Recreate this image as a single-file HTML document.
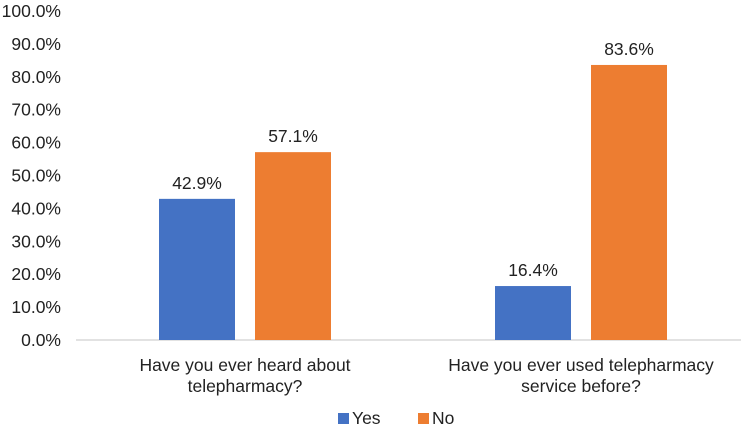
<!DOCTYPE html>
<html><head><meta charset="utf-8"><style>
html,body{margin:0;padding:0;background:#fff;}
svg{display:block;font-family:"Liberation Sans",Arial,sans-serif;}
</style></head><body>
<svg id="chart" width="750" height="431"></svg>
<script>
const categories1 = ["Have you ever heard about", "Have you ever used telepharmacy"];
const categories2 = ["telepharmacy?", "service before?"];
const yesValues = [42.9, 16.4];
const noValues = [57.1, 83.6];
const tickLabels = ["0.0%","10.0%","20.0%","30.0%","40.0%","50.0%","60.0%","70.0%","80.0%","90.0%","100.0%"];
const tickValues = [0,10,20,30,40,50,60,70,80,90,100];

const svg = document.getElementById('chart');
const NS = 'http://www.w3.org/2000/svg';
const y0 = 340, yTop = 11;
const FS = 17.5;
function yScale(v){ return y0 - (v/100)*(y0-yTop); }
const plotL = 77, groupW = 336;
function groupCenter(i){ return plotL + groupW*(i+0.5); }
const barW = 76, gap = 20;
function mk(tag, attrs){ const e=document.createElementNS(NS,tag); for(const k in attrs) e.setAttribute(k,attrs[k]); svg.appendChild(e); return e; }

tickValues.forEach((v,i)=>{
  const t = mk('text',{x:61,y:yScale(v)+6,'text-anchor':'end','font-size':FS,fill:'#222'});
  t.textContent = tickLabels[i];
  
  
});
const ax = mk('line',{x1:76,x2:741,y1:y0,y2:y0,stroke:'#d9d9d9','stroke-width':1.5});



categories1.forEach((c,i)=>{
  const cx = groupCenter(i);
  const series = [[yesValues[i],'#4472c4','bar-yes'],[noValues[i],'#ed7d31','bar-no']];
  series.forEach((s,j)=>{
    const x = j===0 ? cx-gap/2-barW : cx+gap/2;
    const r = mk('rect',{x:x,y:yScale(s[0]),width:barW,height:y0-yScale(s[0]),fill:s[1]});
    
    
    const t = mk('text',{x:x+barW/2,y:yScale(s[0])-10,'text-anchor':'middle','font-size':FS,fill:'#222'});
    t.textContent = s[0].toFixed(1)+'%';
    
    
  });
  const l1 = mk('text',{x:cx,y:371,'text-anchor':'middle','font-size':FS,fill:'#222'});
  l1.textContent = c;
  
  
  const l2 = mk('text',{x:cx,y:392,'text-anchor':'middle','font-size':FS,fill:'#222'});
  l2.textContent = categories2[i];
  
  
});

const legend = [['Yes','#4472c4',338],['No','#ed7d31',418]];
legend.forEach(l=>{
  const r = mk('rect',{x:l[2],y:413,width:11,height:11,fill:l[1]});
  
  
  const t = mk('text',{x:l[2]+14,y:424,'font-size':FS,fill:'#222'});
  t.textContent = l[0];
  
  
});
</script>
</body></html>
